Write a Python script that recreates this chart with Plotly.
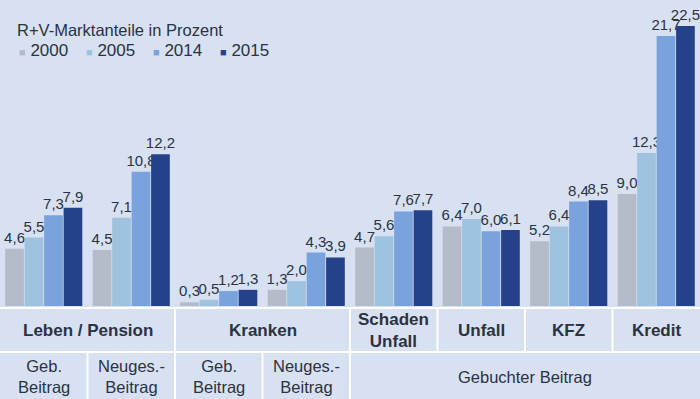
import plotly.graph_objects as go

categories = ["LP_Geb", "LP_Neu", "KR_Geb", "KR_Neu", "Schaden", "Unfall", "KFZ", "Kredit"]
years = ["2000", "2005", "2014", "2015"]
v2000 = [4.6, 4.5, 0.3, 1.3, 4.7, 6.4, 5.2, 9.0]
v2005 = [5.5, 7.1, 0.5, 2.0, 5.6, 7.0, 6.4, 12.3]
v2014 = [7.3, 10.8, 1.2, 4.3, 7.6, 6.0, 8.4, 21.7]
v2015 = [7.9, 12.2, 1.3, 3.9, 7.7, 6.1, 8.5, 22.5]
series = [v2000, v2005, v2014, v2015]
colors = ["#b3bcc8", "#9fc3df", "#7aa2dc", "#25418a"]

row1_labels = ["<b>Leben / Pension</b>", "<b>Kranken</b>", "<b>Schaden<br>Unfall</b>",
               "<b>Unfall</b>", "<b>KFZ</b>", "<b>Kredit</b>"]
row1_spans = [2, 2, 1, 1, 1, 1]
row2_labels = ["Geb.<br>Beitrag", "Neuges.-<br>Beitrag", "Geb.<br>Beitrag",
               "Neuges.-<br>Beitrag", "Gebuchter Beitrag"]
row2_spans = [1, 1, 1, 1, 4]
title_text = "R+V-Marktanteile in Prozent"

W, H = 700, 399
BG = "#d7e1f1"
TXT = "#2b3242"
FONT = "Liberation Sans, Arial, sans-serif"

base_px = 306
table_mid_px = 352

def py(p):
    return 1 - p / H

fig = go.Figure()
for name, vals, col in zip(years, series, colors):
    fig.add_trace(go.Bar(
        x=categories, y=vals, name=name, marker=dict(color=col, line=dict(width=0)),
        text=[f"{v:.1f}".replace(".", ",") for v in vals],
        textposition="outside", cliponaxis=False, constraintext="none",
        textfont=dict(size=15, color=TXT, family=FONT),
    ))

ymax = base_px / 12.44
fig.update_layout(
    width=W, height=H,
    margin=dict(l=0, r=0, t=0, b=0),
    paper_bgcolor=BG, plot_bgcolor=BG,
    barmode="group", bargap=0.11, bargroupgap=0.04,
    showlegend=False,
    font=dict(family=FONT, color=TXT),
    xaxis=dict(domain=[0, 1], showticklabels=False, showgrid=False, zeroline=False,
               showline=False, ticks=""),
    yaxis=dict(domain=[py(base_px), 1], range=[0, ymax], showticklabels=False,
               showgrid=False, zeroline=False, showline=False),
)

shapes = []
annotations = []
n = len(categories)
cw = 1.0 / n
white = dict(color="white", width=2)
shapes.append(dict(type="line", xref="paper", yref="paper", x0=0, x1=1,
                   y0=py(base_px + 2), y1=py(base_px + 2), line=white))
shapes.append(dict(type="line", xref="paper", yref="paper", x0=0, x1=1,
                   y0=py(table_mid_px), y1=py(table_mid_px), line=white))
pos = 0
for lab, sp in zip(row1_labels, row1_spans):
    if pos > 0:
        shapes.append(dict(type="line", xref="paper", yref="paper", x0=pos * cw, x1=pos * cw,
                           y0=py(table_mid_px), y1=py(base_px + 2), line=white))
    annotations.append(dict(xref="paper", yref="paper", x=(pos + sp / 2) * cw,
                            y=py((base_px + 2 + table_mid_px) / 2), text=lab, showarrow=False,
                            xanchor="center", yanchor="middle",
                            font=dict(size=17, color=TXT, family=FONT)))
    pos += sp
pos = 0
for lab, sp in zip(row2_labels, row2_spans):
    if pos > 0:
        shapes.append(dict(type="line", xref="paper", yref="paper", x0=pos * cw, x1=pos * cw,
                           y0=0, y1=py(table_mid_px), line=white))
    annotations.append(dict(xref="paper", yref="paper", x=(pos + sp / 2) * cw,
                            y=py((table_mid_px + H) / 2 + 1), text=lab, showarrow=False,
                            xanchor="center", yanchor="middle",
                            font=dict(size=16.5, color=TXT, family=FONT)))
    pos += sp

annotations.append(dict(xref="paper", yref="paper", x=15 / W, y=py(30), text=title_text,
                        showarrow=False, xanchor="left", yanchor="middle",
                        font=dict(size=16.5, color=TXT, family=FONT)))
leg_x = [17, 84, 151, 218]
for lx, name, col in zip(leg_x, years, colors):
    annotations.append(dict(xref="paper", yref="paper", x=lx / W, y=py(50),
                            text=f"<span style='color:{col};font-size:11px'>■</span> {name}",
                            showarrow=False, xanchor="left", yanchor="middle",
                            font=dict(size=17, color=TXT, family=FONT)))

fig.update_layout(shapes=shapes, annotations=annotations)
fig.write_html("out.html", config={"displayModeBar": False},
               post_script="document.body.style.margin='0';document.body.style.background='" + BG + "';")
